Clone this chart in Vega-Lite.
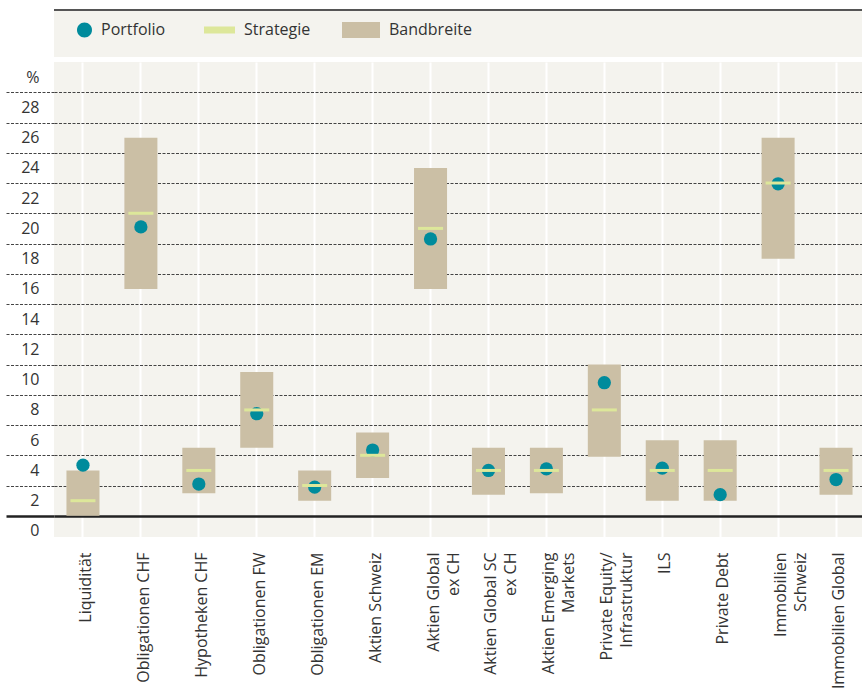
{
  "$schema": "https://vega.github.io/schema/vega-lite/v6.json",
  "padding": {"left": 0, "top": 9, "right": 0, "bottom": 0},
  "bounds": "flush",
  "spacing": 5,
  "background": "white",
  "config": {
    "font": "Open Sans",
    "legend": {"labelFont": "Open Sans"}
  },
  "vconcat": [
    {
      "width": 811,
      "height": 47,
      "view": {"fill": "#f4f3ee", "stroke": null},
      "data": {"values": [{}]},
      "mark": {"type": "rule", "color": "#555555", "strokeWidth": 2},
      "encoding": {
        "y": {"datum": 1, "type": "quantitative", "scale": {"domain": [0, 1]}, "axis": null}
      }
    },
    {
      "width": 811,
      "height": 475,
      "view": {"fill": "#f4f3ee", "stroke": null},
      "data": {
        "values": [
          {"k": "Liquidität", "min": 0, "max": 3, "strategie": 1, "portfolio": 3.35},
          {"k": "Obligationen CHF", "min": 15, "max": 25, "strategie": 20, "portfolio": 19.1},
          {"k": "Hypotheken CHF", "min": 1.5, "max": 4.5, "strategie": 3, "portfolio": 2.1},
          {"k": "Obligationen FW", "min": 4.5, "max": 9.5, "strategie": 7, "portfolio": 6.75},
          {"k": "Obligationen EM", "min": 1, "max": 3, "strategie": 2, "portfolio": 1.9},
          {"k": "Aktien Schweiz", "min": 2.5, "max": 5.5, "strategie": 4, "portfolio": 4.35},
          {"k": "Aktien Global\nex CH", "min": 15, "max": 23, "strategie": 19, "portfolio": 18.3},
          {"k": "Aktien Global SC\nex CH", "min": 1.4, "max": 4.5, "strategie": 3, "portfolio": 3.0},
          {"k": "Aktien Emerging\nMarkets", "min": 1.5, "max": 4.5, "strategie": 3, "portfolio": 3.1},
          {"k": "Private Equity/\nInfrastruktur", "min": 3.9, "max": 10, "strategie": 7, "portfolio": 8.8},
          {"k": "ILS", "min": 1, "max": 5, "strategie": 3, "portfolio": 3.15},
          {"k": "Private Debt", "min": 1, "max": 5, "strategie": 3, "portfolio": 1.4},
          {"k": "Immobilien\nSchweiz", "min": 17, "max": 25, "strategie": 22, "portfolio": 21.95},
          {"k": "Immobilien Global", "min": 1.4, "max": 4.5, "strategie": 3, "portfolio": 2.4}
        ]
      },
      "encoding": {
        "x": {
          "field": "k",
          "type": "nominal",
          "sort": null,
          "scale": {"paddingInner": 0, "paddingOuter": 0},
          "axis": {
            "title": null,
            "domain": false,
            "ticks": false,
            "grid": true,
            "gridColor": "white",
            "gridWidth": 2,
            "labelAngle": -90,
            "labelAlign": "right",
            "labelBaseline": "middle",
            "labelPadding": 15,
            "labelOffset": 3,
            "labelFontSize": 16,
            "labelFont": "Open Sans",
            "labelColor": "#333333",
            "labelLineHeight": 20,
            "labelLimit": 300,
            "labelOverlap": false,
            "labelExpr": "split(datum.label, '\\n')"
          }
        }
      },
      "layer": [
        {
          "mark": {"type": "bar", "width": {"band": 0.57}},
          "encoding": {
            "y": {
              "field": "min",
              "type": "quantitative",
              "scale": {"domain": [-1.4, 30], "nice": false, "zero": false},
              "axis": {
                "title": null,
                "domain": false,
                "values": [0, 2, 4, 6, 8, 10, 12, 14, 16, 18, 20, 22, 24, 26, 28, 30],
                "tickCount": 40,
                "labelExpr": "datum.value == 30 ? '%' : datum.label",
                "labelOverlap": false,
                "labelFlush": false,
                "labelBound": false,
                "labelOffset": 15,
                "labelPadding": -33,
                "labelFontSize": 16,
                "labelFont": "Open Sans",
                "labelColor": "#333333",
                "tickSize": 48,
                "tickColor": {"condition": {"test": "datum.value == 0", "value": "#222222"}, "value": "#444444"},
                "tickDash": {"condition": {"test": "datum.value == 0", "value": []}, "value": [3, 1.5]},
                "tickWidth": {"condition": {"test": "datum.value == 0", "value": 2.5}, "value": 1},
                "tickOpacity": {"condition": {"test": "datum.value == 30", "value": 0}, "value": 1},
                "grid": true,
                "gridColor": {"condition": {"test": "datum.value == 0", "value": "#222222"}, "value": "#444444"},
                "gridDash": {"condition": {"test": "datum.value == 0", "value": []}, "value": [3, 1.5]},
                "gridWidth": {"condition": {"test": "datum.value == 0", "value": 2.5}, "value": 1},
                "gridOpacity": {"condition": {"test": "datum.value == 30", "value": 0}, "value": 1},
                "minExtent": 54,
                "maxExtent": 54
              }
            },
            "y2": {"field": "max"},
            "color": {
              "datum": "Bandbreite",
              "type": "nominal",
              "scale": {
                "domain": ["Portfolio", "Strategie", "Bandbreite"],
                "range": ["#008b9c", "#dde79a", "#cbbfa5"]
              },
              "legend": {
                "title": null,
                "orient": "none",
                "legendX": 0,
                "legendY": 1,
                "direction": "horizontal",
                "symbolSize": 1444,
                "labelOffset": 9,
                "columnPadding": 31,
                "labelFontSize": 16,
                "labelColor": "#333333",
                "padding": 0,
                "encode": {
                  "symbols": {
                    "update": {
                      "shape": {"signal": "datum.value === 'Portfolio' ? 'M0.21,0A0.395,0.395 0 1,0 1,0A0.395,0.395 0 1,0 0.21,0Z' : datum.value === 'Strategie' ? 'M-0.632,-0.184H1V0.184H-0.632Z' : 'M-1,-0.42H1V0.42H-1Z'"},
                      "fill": {"scale": "color", "field": "value"},
                      "stroke": {"value": "transparent"},
                      "strokeWidth": {"value": 0},
                      "opacity": {"value": 1}
                    }
                  }
                }
              }
            }
          }
        },
        {
          "mark": {"type": "point", "filled": true, "shape": "circle", "size": 176, "opacity": 1},
          "encoding": {
            "y": {"field": "portfolio", "type": "quantitative"},
            "color": {"datum": "Portfolio", "type": "nominal"}
          }
        },
        {
          "mark": {"type": "tick", "orient": "horizontal", "size": 25, "thickness": 3, "opacity": 1},
          "encoding": {
            "y": {"field": "strategie", "type": "quantitative"},
            "color": {"datum": "Strategie", "type": "nominal"}
          }
        }
      ]
    }
  ]
}
